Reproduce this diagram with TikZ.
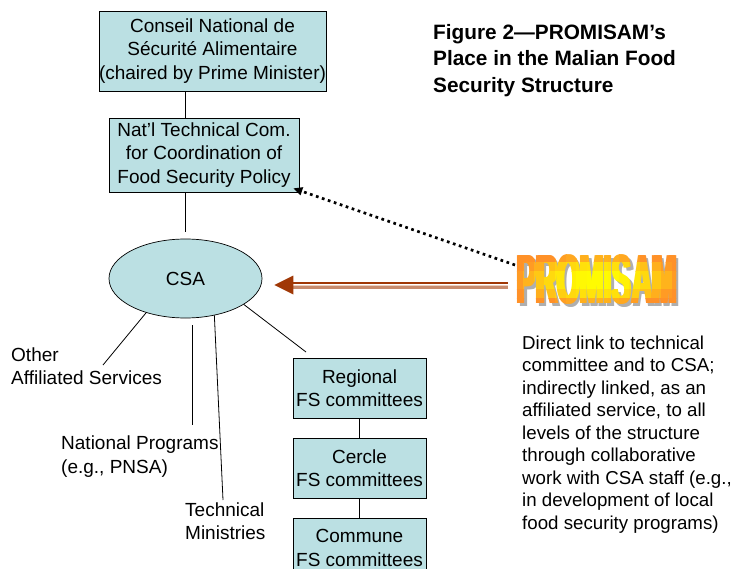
\documentclass[tikz,border=0pt]{standalone}
\usepackage{fontspec}
\setmainfont{Liberation Sans}
\newfontface\promfont{Liberation Sans Bold}
\usetikzlibrary{shapes.geometric,arrows.meta,calc}
\definecolor{boxfill}{RGB}{187,224,227}
\definecolor{arrdark}{RGB}{160,56,6}
\definecolor{arrlight}{RGB}{200,140,110}
\definecolor{arrpale}{RGB}{236,206,190}
\definecolor{promorg}{RGB}{255,145,40}
\definecolor{promyel}{RGB}{255,255,0}
\definecolor{promshad}{RGB}{175,175,175}
\newcommand\mybody{\fontsize{19}{23.5}\selectfont}
\newcommand\promword{\scalebox{1}[2.4]{\promfont\fontsize{29}{30}\selectfont\rlap{PROMISAM}\kern1.1pt\rlap{PROMISAM}\kern1.1pt\rlap{PROMISAM}\kern1.1pt PROMISAM}}
\tikzset{
  fsbox/.style={draw=black, line width=0.7pt, fill=boxfill, inner sep=0pt, align=center, font=\mybody},
  lbl/.style={inner sep=0pt, align=left, font=\mybody},
  conn/.style={draw=black, line width=0.8pt},
  promtext/.style={inner sep=0pt, anchor=center},
}
\begin{document}
\begin{tikzpicture}[x=1pt,y=-1pt]
\clip (0,0) rectangle (735,569);
\fill[white] (0,0) rectangle (735,569);

% boxes
\node[fsbox, minimum width=223pt, minimum height=80pt] (cnsa) at (212.5,51)
  {Conseil National de\\Sécurité Alimentaire\\(chaired by Prime Minister)};
\node[fsbox, minimum width=190pt, minimum height=74pt] (tech) at (204,155)
  {Nat’l Technical Com.\\for Coordination of\\Food Security Policy};
\node[fsbox, ellipse, minimum width=153pt, minimum height=79pt] (csa) at (185.5,278.5) {CSA};
\node[fsbox, minimum width=133pt, minimum height=60pt] (reg) at (359.5,388) {Regional\\FS committees};
\node[fsbox, minimum width=133pt, minimum height=60pt] (cer) at (359.5,468) {Cercle\\FS committees};
\node[fsbox, minimum width=133pt, minimum height=60pt] (com) at (359.5,548) {Commune\\FS committees};

% labels
\node[lbl, anchor=north west] (oas) at (11,347.5) {Other\\Affiliated Services};
\node[lbl, anchor=north west] (np) at (61,436) {National Programs\\(e.g., PNSA)};
\node[lbl, anchor=north west] (tm) at (185,502.5) {Technical\\Ministries};
\node[lbl, anchor=north west, font=\bfseries\fontsize{20.8}{26.5}\selectfont] (title) at (433,24)
  {Figure 2—PROMISAM’s\\Place in the Malian Food\\Security Structure};
\node[lbl, anchor=north west, font=\fontsize{18.7}{22.5}\selectfont] (desc) at (522,335.5)
  {Direct link to technical\\committee and to CSA;\\indirectly linked, as an\\affiliated service, to all\\levels of the structure\\through collaborative\\work with CSA staff (e.g.,\\in development of local\\food security programs)};

% connectors in the hierarchy
\draw[conn] (cnsa.south -| csa.north) -- (tech.north -| csa.north);
\draw[conn] (tech.south -| csa.north) -- ($(csa.north)+(0,-7)$);
\draw[conn] (reg.south) -- (cer.north);
\draw[conn] (cer.south) -- (com.north);

\coordinate (oasEnd) at (103,365);
\coordinate (npTop) at ($(csa.south)+(6.5,7)$);
\coordinate (npEnd) at (192,425);
\coordinate (tmEnd) at (223,500);
\coordinate (regEnd) at (306,352);
\draw[conn] (csa.221) -- (oasEnd);
\draw[conn] (npTop) -- (npEnd);
\draw[conn] (csa.308) -- (tmEnd);
\draw[conn] (csa.336) -- (regEnd);

% PROMISAM word art: grey shadow, then letters with a radial orange-yellow gradient
\coordinate (promc) at (597,280);
\node[promtext, text=promshad] (promshadow) at ($(promc)+(2.5,2.5)$) {\promword};
\foreach \i in {0,...,15}{
  \foreach \j in {0,...,5}{
    \pgfmathsetmacro\cx{(\i+0.5)/16*2-1}
    \pgfmathsetmacro\cy{(\j+0.5)/6*2-1}
    \pgfmathsetmacro\pct{100*max(0,1-(\cx*\cx+\cy*\cy))}
    \colorlet{cellc}{promyel!\pct!promorg}
    \begin{scope}
      \clip (513+\i*10.625, 253+\j*9.1667) rectangle ++(10.625,9.1667);
      \node[promtext, text=cellc] (prom-\i-\j) at (promc) {\promword};
    \end{scope}
  }
}

% dotted arrow to technical committee
\coordinate (dotS) at ($(promc)+(-82,-15)$);
\coordinate (dotE) at ($(tech.south east)+(-6,-4)$);
\draw[line width=2.7pt, dash pattern=on 2.7pt off 3.6pt, -{Triangle[length=9pt,width=8pt]}] (dotS) -- (dotE);

% double arrow to CSA
\coordinate (arrS) at ($(promc)+(-89,5)$);
\coordinate (arrT) at ($(csa.east)+(12,6.5)$);
\draw[arrdark, line width=2pt] ($(arrT)+(18,-1.8)$) -- ($(arrS)+(0,-1.8)$);
\draw[arrpale, line width=1pt] ($(arrT)+(18,0.3)$) -- ($(arrS)+(0,0.3)$);
\draw[arrlight, line width=2.4pt] ($(arrT)+(18,2.3)$) -- ($(arrS)+(0,2.3)$);
\fill[arrdark] (arrT) -- ++(19,-9.5) -- ++(0,19) -- cycle;
\end{tikzpicture}
\end{document}
